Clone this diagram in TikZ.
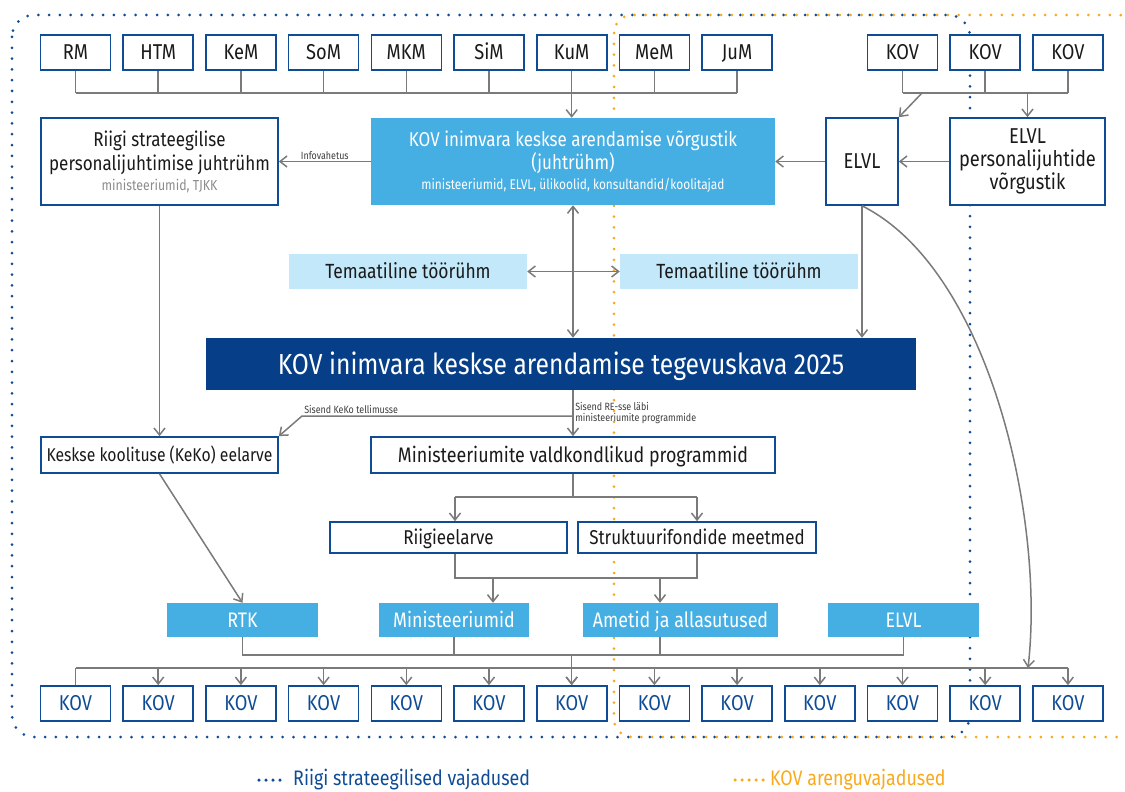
\documentclass[tikz,border=0pt]{standalone}
\usepackage{fontspec}
\setmainfont{Fira Sans}[FakeStretch=0.85]
\usetikzlibrary{positioning,arrows.meta}
\definecolor{boxblue}{HTML}{0F4C95}
\definecolor{planblue}{HTML}{063F87}
\definecolor{netblue}{HTML}{45AEE3}
\definecolor{paleblue}{HTML}{C3E8F9}
\definecolor{linegray}{HTML}{7A7A7A}
\definecolor{dotorange}{HTML}{F8A91C}
\definecolor{txtgray}{HTML}{8C8C8C}
\definecolor{txtblack}{HTML}{1A1A1A}
\newcommand\fsz[2]{\fontsize{#1}{#2}\selectfont}
\tikzset{
  oneline/.style={text height=#1, text depth=0pt},
  oneline/.default=14.5pt,
  wbox/.style={draw=boxblue, line width=1.6pt, fill=white, inner sep=0pt, text=txtblack,
    font=\fsz{21}{24}, minimum height=35pt, align=center},
  mbox/.style={wbox, oneline=14.8pt, minimum width=70pt, font=\fsz{21.5}{24}},
  bkov/.style={mbox, text=boxblue},
  fillbox/.style={fill=netblue, text=white, inner sep=0pt, align=center, font=\fsz{21}{24}},
  palebox/.style={fill=paleblue, oneline=14.1pt, text=txtblack, inner sep=0pt, font=\fsz{20.5}{23},
    minimum width=238pt, minimum height=35pt},
  gline/.style={draw=linegray, line width=1.5pt},
  garrow/.style={gline, -{Straight Barb[length=7pt,width=11pt]}},
  gboth/.style={gline, {Straight Barb[length=7pt,width=11pt]}-{Straight Barb[length=7pt,width=11pt]}},
  bluedots/.style={draw=boxblue, line width=3pt, line cap=round, dash pattern=on 0pt off 10.8pt},
  orangedots/.style={bluedots, draw=dotorange},
  legdots/.style={line width=3.5pt, line cap=round, dash pattern=on 0pt off 7pt},
  lbl/.style={font=\fsz{10.5}{11}, text=txtblack!85, inner sep=1.5pt}
}
\begin{document}
\begin{tikzpicture}[x=1pt,y=-1pt]
\useasboundingbox (0,0) rectangle (1125,792);
\draw[bluedots, rounded corners=22pt] (12,15) rectangle (970,737);
\draw[orangedots, rounded corners=18pt] (614,15) rectangle (1138,737);

\foreach \n [count=\i from 0] in {RM,HTM,KeM,SoM,MKM,SiM,KuM,MeM,JuM}
  \node[mbox] (m\i) at ({75.5+82.7*\i},52.5) {\n};
\foreach \i in {10,11,12}
  \node[mbox] (tk\i) at ({75.5+82.7*\i},52.5) {KOV};
\foreach \i in {0,...,12}
  \node[bkov] (bk\i) at ({75.5+82.7*\i},703.5) {KOV};

\node[fillbox, minimum width=404pt, minimum height=87pt, font=\fsz{20}{23}] (net) at (573,161.5)
  {KOV inimvara keskse arendamise võrgustik\\(juhtrühm)\\[-3pt]{\fsz{14}{15}ministeeriumid, ELVL, ülikoolid, konsultandid/koolitajad}};
\node[wbox, minimum width=237pt, minimum height=87pt, font=\fsz{20}{24.5}] (riigi) at (159.5,161.5)
  {Riigi strateegilise\\personalijuhtimise juhtrühm\\[-5pt]{\fsz{14.5}{15}\color{txtgray}ministeeriumid, TJKK}};
\node[wbox, oneline=14.8pt, minimum width=72pt, minimum height=87pt, font=\fsz{21.5}{24}] (elvl) at (862,161.5) {ELVL};
\node[wbox, minimum width=155pt, minimum height=87pt, font=\fsz{21.5}{23}] (elp) at (1027.5,161.5) {ELVL\\personalijuhtide\\võrgustik};
\node[palebox] (tema1) at (408,271.5) {Temaatiline töörühm};
\node[palebox] (tema2) at (739,271.5) {Temaatiline töörühm};
\node[fill=planblue, text=white, oneline=20pt, minimum width=710pt, minimum height=52pt, font=\fsz{29}{32}] (plan) at (561,364)
  {KOV inimvara keskse arendamise tegevuskava 2025};
\node[wbox, oneline=12.8pt, minimum width=237pt, minimum height=36pt, font=\fsz{18.5}{22}] (keko) at (159.5,455) {Keskse koolituse (KeKo) eelarve};
\node[wbox, oneline, minimum width=404pt, minimum height=36pt] (valdk) at (573,455) {Ministeeriumite valdkondlikud programmid};
\node[wbox, oneline=13.8pt, minimum width=237pt, minimum height=31pt, font=\fsz{20}{23}] (rie) at (448.5,537.5) {Riigieelarve};
\node[wbox, oneline=13.8pt, minimum width=238pt, minimum height=31pt, font=\fsz{20}{23}] (str) at (697,537.5) {Struktuurifondide meetmed};
\node[fillbox, oneline, minimum width=151pt, minimum height=34pt] (rtk) at (242.5,620) {RTK};
\node[fillbox, oneline, minimum width=150pt, minimum height=34pt] (min) at (454,620) {Ministeeriumid};
\node[fillbox, oneline, minimum width=195pt, minimum height=34pt] (ame) at (680.5,620) {Ametid ja allasutused};
\node[fillbox, oneline, minimum width=151pt, minimum height=34pt] (elb) at (903.5,620) {ELVL};

\coordinate (mbus) at (0,93);
\foreach \i in {0,...,8}
  \draw[gline] (m\i.south) -- (m\i.south |- mbus);
\draw[gline] (m0.south |- mbus) -- (m8.south |- mbus);
\draw[garrow] (m6.south |- mbus) -- (m6.south |- net.north);
\foreach \i in {10,11,12}
  \draw[gline] (tk\i.south) -- (tk\i.south |- mbus);
\draw[gline] (tk10.south |- mbus) -- (tk12.south |- mbus);
\coordinate (kbusA) at (922,93);
\draw[garrow] (kbusA) -- (elvl.north east);
\draw[garrow] (elp.north |- mbus) -- (elp.north);
\draw[garrow] (elp.west) -- (elvl.east);
\draw[garrow] (elvl.west) -- (net.east);
\draw[garrow] (net.west) -- node[lbl, above] {Infovahetus} (riigi.east);
\draw[gboth] (net.south) -- (net.south |- plan.north);
\draw[gboth] (tema1.east) -- (tema2.west);
\draw[garrow] (elvl.south) -- (elvl.south |- plan.north);
\coordinate (curveend) at (1028,668);
\draw[garrow] (elvl.south) .. controls (990,270) and (1045,520) .. (curveend);

\draw[garrow] (riigi.south) -- (keko.north);
\draw[garrow] (valdk.north |- plan.south) -- node[lbl, right, align=left] {Sisend RE-sse läbi\\ministeeriumite programmide} (valdk.north);
\coordinate (kekobus) at (302,416);
\draw[garrow] (valdk.north |- kekobus) -- (kekobus) node[lbl, anchor=south west] {Sisend KeKo tellimusse} -- (keko.north east);

\coordinate (vbus) at (0,497);
\coordinate (rieT) at ([xshift=6.5pt]rie.north);
\draw[gline] (valdk.south) -- (valdk.south |- vbus);
\draw[gline] (rieT |- vbus) -- (str.north |- vbus);
\draw[garrow] (rieT |- vbus) -- (rieT);
\draw[garrow] (str.north |- vbus) -- (str.north);
\coordinate (sbus) at (0,578);
\coordinate (minT) at ([xshift=39pt]min.north);
\coordinate (ameT) at ([xshift=-20.5pt]ame.north);
\draw[gline] (rieT |- rie.south) -- (rieT |- sbus) -- (str.south |- sbus) -- (str.south);
\draw[garrow] (minT |- sbus) -- (minT);
\draw[garrow] (ameT |- sbus) -- (ameT);
\draw[garrow] (keko.south) -- (rtk.north);

\coordinate (cbus) at (0,655);
\coordinate (dbus) at (0,668);
\draw[gline] (rtk.south) -- (rtk.south |- cbus) -- (elb.south |- cbus) -- (elb.south);
\draw[gline] (min.south) -- (min.south |- cbus);
\draw[gline] (ameT |- ame.south) -- (ameT |- cbus);
\draw[gline] (bk0.north |- dbus) -- (bk12.north |- dbus);
\draw[gline] (bk0.north |- dbus) -- (bk0.north);
\foreach \i in {1,...,12}
  \draw[garrow] (bk\i.north |- dbus) -- (bk\i.north);
\draw[garrow] (bk6.north |- cbus) -- (bk6.north);

\node[font=\fsz{21}{24}, text=boxblue, anchor=west, inner sep=0pt] (legR) at (293,780) {Riigi strateegilised vajadused};
\draw[legdots, draw=boxblue] ([xshift=-34pt]legR.west) -- ([xshift=-6pt]legR.west);
\node[font=\fsz{21}{24}, text=dotorange, anchor=west, inner sep=0pt] (legK) at (770,780) {KOV arenguvajadused};
\draw[legdots, draw=dotorange] ([xshift=-35pt]legK.west) -- ([xshift=-6pt]legK.west);
\end{tikzpicture}
\end{document}
